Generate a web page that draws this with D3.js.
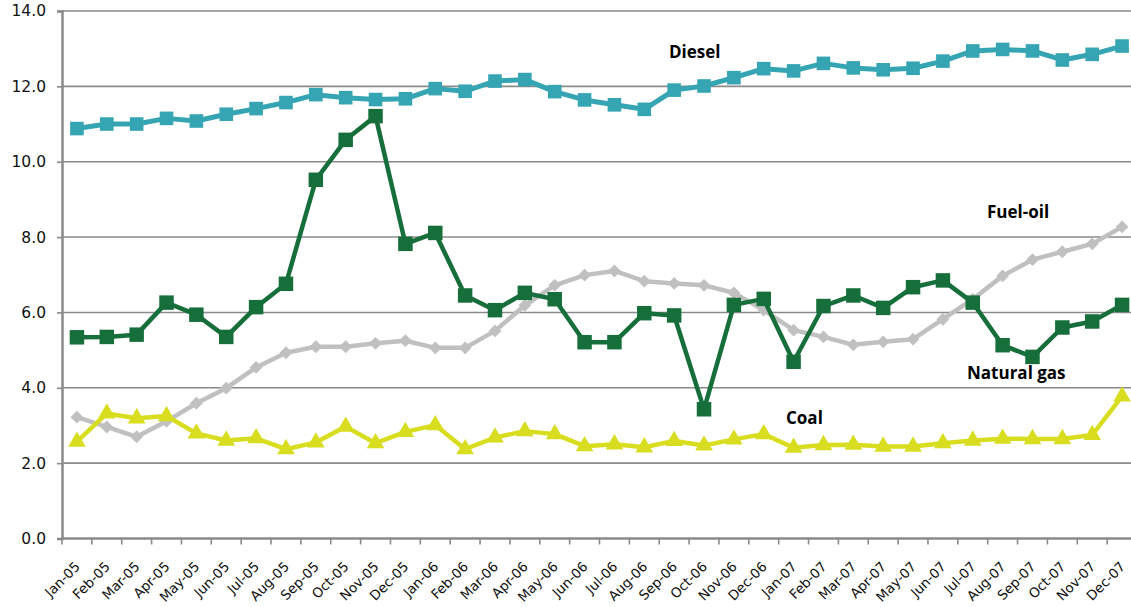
<!DOCTYPE html>
<html>
<head>
<meta charset="utf-8">
<script src="https://cdn.jsdelivr.net/npm/d3@7"></script>
<style>
  html, body { margin: 0; padding: 0; background: #fff; }
  svg { display: block; }
  .axis-label { font-family: 'DejaVu Sans', Verdana, sans-serif; fill: #111; }
  .series-label { font-family: 'Open Sans', sans-serif; font-weight: 700; fill: #000; }
</style>
</head>
<body>
<svg id="chart" width="1131" height="607"></svg>
<script>
// Monthly fuel prices, Jan 2005 – Dec 2007
const months = [
  "Jan-05","Feb-05","Mar-05","Apr-05","May-05","Jun-05","Jul-05","Aug-05","Sep-05","Oct-05","Nov-05","Dec-05",
  "Jan-06","Feb-06","Mar-06","Apr-06","May-06","Jun-06","Jul-06","Aug-06","Sep-06","Oct-06","Nov-06","Dec-06",
  "Jan-07","Feb-07","Mar-07","Apr-07","May-07","Jun-07","Jul-07","Aug-07","Sep-07","Oct-07","Nov-07","Dec-07"
];

const diesel = [10.88, 11.00, 11.00, 11.15, 11.08, 11.26, 11.41, 11.57, 11.78, 11.70, 11.65, 11.67,
                11.94, 11.87, 12.14, 12.18, 11.86, 11.64, 11.51, 11.39, 11.90, 12.01, 12.23, 12.47,
                12.41, 12.61, 12.49, 12.44, 12.48, 12.67, 12.94, 12.98, 12.94, 12.70, 12.85, 13.07];

const naturalGas = [5.34, 5.35, 5.41, 6.26, 5.94, 5.35, 6.14, 6.76, 9.52, 10.58, 11.21, 7.82,
                    8.11, 6.45, 6.06, 6.52, 6.35, 5.21, 5.21, 5.98, 5.92, 3.43, 6.20, 6.36,
                    4.69, 6.17, 6.45, 6.12, 6.67, 6.85, 6.26, 5.13, 4.82, 5.60, 5.76, 6.20];

const fuelOil = [3.22, 2.96, 2.70, 3.11, 3.59, 3.99, 4.54, 4.93, 5.09, 5.09, 5.18, 5.25,
                 5.06, 5.06, 5.51, 6.19, 6.72, 6.99, 7.10, 6.83, 6.77, 6.72, 6.52, 6.06,
                 5.53, 5.35, 5.14, 5.22, 5.29, 5.82, 6.35, 6.97, 7.40, 7.61, 7.82, 8.27];

const coal = [2.57, 3.32, 3.19, 3.25, 2.79, 2.60, 2.66, 2.37, 2.55, 2.97, 2.53, 2.83,
              3.01, 2.37, 2.68, 2.85, 2.77, 2.45, 2.50, 2.42, 2.59, 2.47, 2.63, 2.77,
              2.41, 2.48, 2.49, 2.44, 2.44, 2.53, 2.60, 2.65, 2.64, 2.64, 2.75, 3.77];

const yTicks = [0, 2, 4, 6, 8, 10, 12, 14];

// Series drawn bottom to top
const series = [
  { name: "Fuel-oil",    values: fuelOil,    color: "#c0c0c0", symbol: d3.symbolDiamond2, size: 105, width: 4.5,
    label: { x: 987, y: 218 } },
  { name: "Coal",        values: coal,       color: "#d8de1f", symbol: d3.symbolTriangle, size: 135, width: 4.5,
    label: { x: 786, y: 424 } },
  { name: "Natural gas", values: naturalGas, color: "#166f3b", symbol: d3.symbolSquare,   size: 210, width: 4.5,
    label: { x: 967, y: 379 } },
  { name: "Diesel",      values: diesel,     color: "#35a5b3", symbol: d3.symbolSquare,   size: 185, width: 5,
    label: { x: 669, y: 58 } }
];

const svg = d3.select("#chart");
const plot = { left: 62, right: 1137, top: 11, bottom: 538.5 };

const x = d3.scaleBand().domain(months).range([plot.left, plot.right]).padding(0);
const y = d3.scaleLinear().domain([0, 14]).range([plot.bottom, plot.top]);
const cx = m => x(m) + x.bandwidth() / 2;

const axisColor = "#8a8a8a";

// Horizontal gridlines
svg.append("g")
  .selectAll("line")
  .data(yTicks.filter(t => t > 0))
  .join("line")
  .attr("x1", plot.left).attr("x2", plot.right)
  .attr("y1", d => y(d)).attr("y2", d => y(d))
  .attr("stroke", axisColor).attr("stroke-width", 1.6);

// Y axis
const yAxis = svg.append("g")
  .attr("transform", `translate(${plot.left},0)`)
  .call(d3.axisLeft(y).tickValues(yTicks).tickFormat(d3.format(".1f")).tickSize(5).tickPadding(11));
yAxis.select(".domain").attr("stroke", axisColor).attr("stroke-width", 2.5);
yAxis.selectAll(".tick line").attr("stroke", axisColor).attr("stroke-width", 1.6);
yAxis.selectAll("text")
  .attr("class", "axis-label")
  .attr("font-family", null)
  .attr("font-size", 15.5);

// X axis with ticks between categories
const xAxis = svg.append("g").attr("transform", `translate(0,${plot.bottom})`);
xAxis.append("line")
  .attr("x1", plot.left).attr("x2", plot.right)
  .attr("stroke", axisColor).attr("stroke-width", 2.5);
xAxis.selectAll("line.tk")
  .data(months.map(m => x(m)).concat([plot.right]))
  .join("line").attr("class", "tk")
  .attr("x1", d => d).attr("x2", d => d)
  .attr("y1", 0).attr("y2", 6)
  .attr("stroke", axisColor).attr("stroke-width", 1.6);
xAxis.selectAll("text")
  .data(months)
  .join("text")
  .attr("class", "axis-label")
  .attr("transform", d => `translate(${cx(d) + 4},29) rotate(-45)`)
  .attr("text-anchor", "end")
  .attr("font-size", 13.5)
  .text(d => d);

// Lines and markers
const line = d3.line().x((d, i) => cx(months[i])).y(d => y(d));

series.forEach(s => {
  const g = svg.append("g");
  g.append("path")
    .attr("d", line(s.values))
    .attr("fill", "none")
    .attr("stroke", s.color)
    .attr("stroke-width", s.width)
    .attr("stroke-linejoin", "round");
  g.selectAll("path.mk")
    .data(s.values)
    .join("path").attr("class", "mk")
    .attr("transform", (d, i) => `translate(${cx(months[i])},${y(d)})`)
    .attr("d", d3.symbol().type(s.symbol).size(s.size))
    .attr("fill", s.color);
});

// Series labels
svg.append("g")
  .selectAll("text")
  .data(series)
  .join("text")
  .attr("class", "series-label")
  .attr("x", d => d.label.x)
  .attr("y", d => d.label.y)
  .attr("font-size", 17)
  .text(d => d.name);
</script>
</body>
</html>
